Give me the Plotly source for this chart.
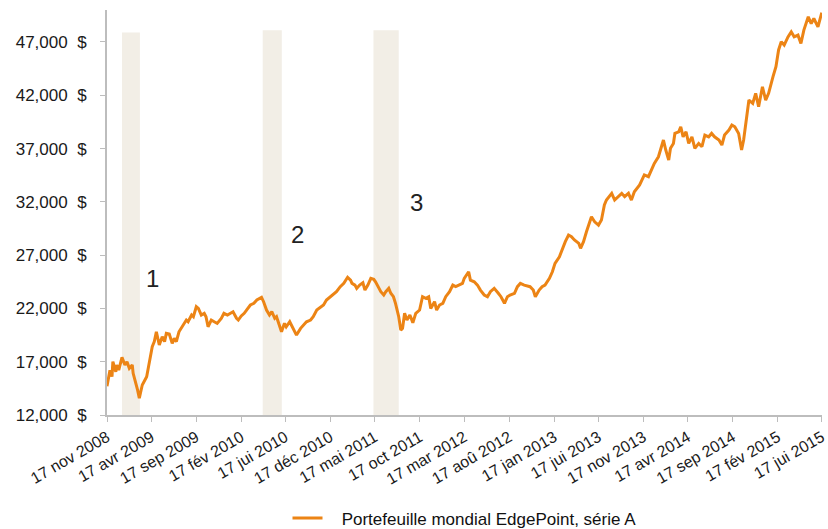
import plotly.graph_objects as go

# ---- data ----
dates = [
    "2008-11-17", "2008-11-27", "2008-12-04", "2008-12-07", "2008-12-17", "2008-12-20", "2008-12-27",
    "2009-01-07", "2009-01-17", "2009-01-24", "2009-02-01", "2009-02-11", "2009-02-14", "2009-02-24",
    "2009-03-01", "2009-03-07", "2009-03-14", "2009-03-17", "2009-04-01", "2009-04-11", "2009-04-20",
    "2009-04-27", "2009-05-04", "2009-05-14", "2009-05-24", "2009-06-01", "2009-06-07", "2009-06-17",
    "2009-06-27", "2009-07-04", "2009-07-11", "2009-07-20", "2009-08-01", "2009-08-07", "2009-08-14",
    "2009-08-20", "2009-09-01", "2009-09-07", "2009-09-17", "2009-09-24", "2009-10-04", "2009-10-14",
    "2009-10-20", "2009-10-27", "2009-11-07", "2009-11-17", "2009-11-27", "2009-12-11", "2009-12-20",
    "2010-01-01", "2010-01-14", "2010-01-20", "2010-02-01", "2010-02-07", "2010-02-17", "2010-02-27",
    "2010-03-07", "2010-03-20", "2010-04-01", "2010-04-11", "2010-04-27", "2010-05-04", "2010-05-14",
    "2010-05-24", "2010-06-01", "2010-06-11", "2010-06-17", "2010-06-27", "2010-07-04", "2010-07-14",
    "2010-07-20", "2010-08-01", "2010-08-07", "2010-08-17", "2010-08-24", "2010-09-07", "2010-09-17",
    "2010-09-27", "2010-10-11", "2010-10-20", "2010-11-01", "2010-11-14", "2010-11-24", "2010-12-04",
    "2010-12-17", "2010-12-27", "2011-01-07", "2011-01-20", "2011-02-01", "2011-02-14", "2011-02-24",
    "2011-03-01", "2011-03-11", "2011-03-17", "2011-03-27", "2011-04-07", "2011-04-14", "2011-04-24",
    "2011-05-04", "2011-05-14", "2011-05-20", "2011-06-01", "2011-06-07", "2011-06-17", "2011-06-24",
    "2011-07-04", "2011-07-11", "2011-07-20", "2011-07-27", "2011-08-07", "2011-08-14", "2011-08-20",
    "2011-08-27", "2011-09-04", "2011-09-14", "2011-09-24", "2011-10-04", "2011-10-17", "2011-10-27",
    "2011-11-07", "2011-11-17", "2011-11-24", "2011-12-07", "2011-12-14", "2011-12-24", "2012-01-04",
    "2012-01-14", "2012-01-27", "2012-02-07", "2012-02-17", "2012-03-01", "2012-03-11", "2012-03-17",
    "2012-04-01", "2012-04-07", "2012-04-20", "2012-05-01", "2012-05-11", "2012-05-24", "2012-06-04",
    "2012-06-14", "2012-06-27", "2012-07-11", "2012-07-20", "2012-08-01", "2012-08-11", "2012-08-20",
    "2012-09-04", "2012-09-14", "2012-09-24", "2012-10-07", "2012-10-17", "2012-10-27", "2012-11-07",
    "2012-11-14", "2012-11-27", "2012-12-07", "2012-12-17", "2013-01-01", "2013-01-11", "2013-01-20",
    "2013-02-04", "2013-02-14", "2013-02-24", "2013-03-07", "2013-03-17", "2013-03-27", "2013-04-11",
    "2013-04-17", "2013-04-27", "2013-05-07", "2013-05-17", "2013-05-24", "2013-06-04", "2013-06-17",
    "2013-06-27", "2013-07-07", "2013-07-14", "2013-08-01", "2013-08-11", "2013-08-24", "2013-09-04",
    "2013-09-14", "2013-09-27", "2013-10-07", "2013-10-17", "2013-11-04", "2013-11-20", "2013-12-04",
    "2013-12-14", "2013-12-24", "2014-01-07", "2014-01-17", "2014-01-24", "2014-02-01", "2014-02-11",
    "2014-02-17", "2014-02-27", "2014-03-04", "2014-03-17", "2014-03-24", "2014-04-01", "2014-04-11",
    "2014-04-20", "2014-05-01", "2014-05-11", "2014-05-24", "2014-06-04", "2014-06-14", "2014-06-27",
    "2014-07-07", "2014-07-17", "2014-08-01", "2014-08-11", "2014-08-20", "2014-09-04", "2014-09-14",
    "2014-09-24", "2014-10-07", "2014-10-17", "2014-10-24", "2014-11-04", "2014-11-11", "2014-11-24",
    "2014-12-04", "2014-12-14", "2014-12-27", "2015-01-07", "2015-01-17", "2015-02-01", "2015-02-11",
    "2015-02-20", "2015-03-01", "2015-03-11", "2015-03-24", "2015-04-04", "2015-04-14", "2015-04-27",
    "2015-05-07", "2015-05-17", "2015-06-01", "2015-06-11", "2015-06-20", "2015-07-04", "2015-07-14",
    "2015-07-17",
]
values = [
    14700, 16200, 15600, 17000, 16060, 16690, 16220,
    17410, 16690, 17000, 16380, 16690, 15910, 14970,
    14350, 13570, 14350, 14810, 15590, 17160, 18410,
    18880, 19810, 18570, 19340, 18880, 19660, 19600,
    18720, 19190, 18880, 19810, 20280, 20600, 20910,
    20750, 21380, 21220, 22160, 22000, 21380, 21540,
    21220, 20280, 20910, 20750, 20600, 21070, 21540,
    21380, 21540, 21690, 21070, 20910, 21290, 21540,
    21850, 22320, 22480, 22790, 23040, 22630, 21850,
    21380, 21690, 21070, 21220, 20440, 19810, 20600,
    20280, 20750, 20440, 19970, 19500, 20130, 20440,
    20750, 20910, 21220, 21850, 22160, 22320, 22790,
    23100, 23260, 23570, 24040, 24350, 24920, 24660,
    24350, 24190, 23880, 24190, 24410, 23720, 24190,
    24820, 24730, 24500, 23880, 23570, 23260, 23570,
    23880, 23420, 23100, 22480, 21220, 19970, 20130,
    21540, 20910, 21380, 20650, 21540, 21850, 23100,
    22950, 23100, 22000, 22630, 21850, 22320, 22480,
    23100, 23570, 24190, 24040, 24190, 24350, 24820,
    25440, 24660, 24500, 24190, 23720, 23260, 23100,
    23570, 23880, 23420, 23100, 22480, 23100, 23260,
    23420, 24040, 24350, 24190, 24100, 24040, 23720,
    23100, 23720, 24040, 24190, 24820, 25440, 26230,
    26850, 27640, 28260, 28890, 28730, 28420, 28100,
    27640, 28260, 29190, 30130, 30600, 30130, 29820,
    30290, 31700, 32170, 32800, 32170, 32480, 32800,
    32480, 32800, 32170, 32950, 33580, 34520, 34360,
    34980, 35610, 36230, 37170, 37800, 36860, 35920,
    37020, 37480, 38420, 38570, 39040, 38100, 38570,
    37480, 38100, 37020, 37480, 37170, 38270, 38100,
    38420, 38100, 37800, 37330, 38270, 38730, 39200,
    39040, 38420, 36860, 37800, 40300, 41550, 41240,
    42180, 40920, 42800, 41550, 42180, 43750, 44680,
    46250, 47020, 46710, 47480, 47950, 47480, 47640,
    46860, 48110, 49360, 48730, 49200, 48420, 49520,
    49750,
]

series_name = "Portefeuille mondial EdgePoint, série A"

x_tick_dates = [
    "2008-11-17", "2009-04-17", "2009-09-17", "2010-02-17", "2010-07-17", "2010-12-17",
    "2011-05-17", "2011-10-17", "2012-03-17", "2012-08-17", "2013-01-17", "2013-06-17",
    "2013-11-17", "2014-04-17", "2014-09-17", "2015-02-17", "2015-07-17",
]
x_tick_labels = [
    "17 nov 2008", "17 avr 2009", "17 sep 2009", "17 fév 2010", "17 jui 2010", "17 déc 2010",
    "17 mai 2011", "17 oct 2011", "17 mar 2012", "17 aoû 2012", "17 jan 2013", "17 jui 2013",
    "17 nov 2013", "17 avr 2014", "17 sep 2014", "17 fév 2015", "17 jui 2015",
]
y_tick_values = [12000, 17000, 22000, 27000, 32000, 37000, 42000, 47000]
y_tick_labels = ["{:,}\u00a0\u00a0$".format(v) for v in y_tick_values]

# shaded periods (start, end, top)
period_starts = ["2009-01-07", "2010-05-01", "2011-05-13"]
period_ends = ["2009-03-09", "2010-07-05", "2011-08-07"]
period_tops = [47900, 48100, 48100]
period_labels = ["1", "2", "3"]
label_dates = ["2009-04-21", "2010-08-27", "2011-10-07"]
label_values = [24850, 28890, 31980]

# ---- figure ----
LINE = "#EC8415"
FONT = "Liberation Sans, Arial, sans-serif"

fig = go.Figure()
fig.add_trace(go.Scatter(
    x=dates, y=values, mode="lines", name="\u00a0\u00a0\u00a0" + series_name,
    line=dict(color=LINE, width=3),
))

for s, e, t in zip(period_starts, period_ends, period_tops):
    fig.add_shape(type="rect", xref="x", yref="y", x0=s, x1=e, y0=12000, y1=t,
                  fillcolor="#F2EEE6", line=dict(width=0), layer="below")

for lbl, d, v in zip(period_labels, label_dates, label_values):
    fig.add_annotation(x=d, y=v, xref="x", yref="y", text=lbl, showarrow=False,
                       font=dict(size=24, color="#222222", family=FONT))

fig.update_layout(
    width=828, height=529,
    margin=dict(l=107, r=6, t=10, b=114),
    paper_bgcolor="white", plot_bgcolor="white",
    font=dict(family=FONT, color="#1a1a1a"),
    showlegend=True,
    legend=dict(orientation="h", x=0.5, xanchor="center", y=0.02, yanchor="middle",
                yref="container", font=dict(size=17, color="#111111", family=FONT),
                bgcolor="rgba(0,0,0,0)"),
    xaxis=dict(
        type="date", range=["2008-11-17", "2015-07-17 18:00"],
        tickmode="array", tickvals=x_tick_dates, ticktext=x_tick_labels,
        tickangle=-30, tickfont=dict(size=16, color="#1a1a1a"),
        ticklabeloverflow="allow",
        showgrid=False, zeroline=False,
        showline=True, linecolor="#BDBDBD", linewidth=2,
        ticks="outside", ticklen=5, tickcolor="#BDBDBD", tickwidth=1,
        automargin=False,
    ),
    yaxis=dict(
        range=[12000, 50000],
        tickmode="array", tickvals=y_tick_values, ticktext=y_tick_labels,
        tickfont=dict(size=17, color="#1a1a1a"),
        showgrid=False, zeroline=False,
        showline=True, linecolor="#BDBDBD", linewidth=2,
        ticks="outside", ticklen=5, tickcolor="#BDBDBD", tickwidth=1,
        ticklabelstandoff=10,
        automargin=False,
    ),
)

fig.write_html("out.html")
